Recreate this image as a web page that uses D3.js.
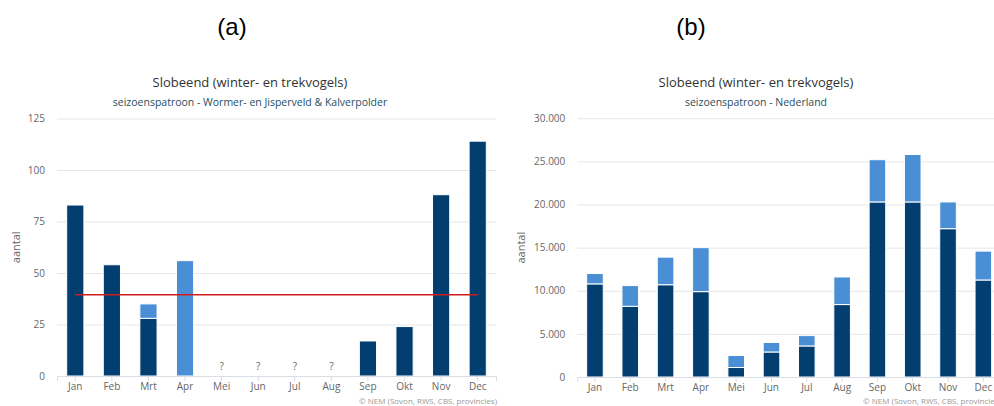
<!DOCTYPE html>
<html>
<head>
<meta charset="utf-8">
<script src="https://cdn.jsdelivr.net/npm/d3@7"></script>
<style>
  html, body { margin: 0; padding: 0; background: #fff; }
  svg { display: block; }
  text { font-family: "Open Sans", "DejaVu Sans", sans-serif; }
</style>
</head>
<body>
<svg id="chart" width="994" height="406"></svg>
<script>
// Months shown on both x axes
const months = ["Jan", "Feb", "Mrt", "Apr", "Mei", "Jun", "Jul", "Aug", "Sep", "Okt", "Nov", "Dec"];

// (a) Wormer- en Jisperveld & Kalverpolder: two stacked parts per month (null = no count)
const localLower = [83, 54, 28, 0, null, null, null, null, 17, 24, 88, 114];
const localUpper = [0, 0, 7, 56, null, null, null, null, 0, 0, 0, 0];
const localReference = 39.5;
const localTicks = [0, 25, 50, 75, 100, 125];

// (b) Nederland: two stacked parts per month
const nlLower = [10800, 8200, 10700, 9900, 1100, 2900, 3600, 8400, 20300, 20300, 17200, 11250];
const nlUpper = [1200, 2400, 3200, 5100, 1400, 1100, 1200, 3200, 4900, 5500, 3100, 3350];
const nlTicks = [0, 5000, 10000, 15000, 20000, 25000, 30000];

const chartTitle = "Slobeend (winter- en trekvogels)";
const subtitleA = "seizoenspatroon - Wormer- en Jisperveld & Kalverpolder";
const subtitleB = "seizoenspatroon - Nederland";
const credits = "© NEM (Sovon, RWS, CBS, provincies)";
const yTitle = "aantal";

const DARK = "#033e70";
const LIGHT = "#4a8fd5";
const RED = "#d01c1c";

const svg = d3.select("#chart");
const nlFormat = v => d3.format(",")(v).replace(/,/g, ".");

function panel(opts) {
  const g = svg.append("g");
  const x = d3.scaleBand().domain(months)
    .range([opts.left, opts.right]).paddingInner(0.53).paddingOuter(0.265);
  const y = d3.scaleLinear().domain([0, opts.max]).range([opts.bottom, opts.top]);

  // panel letter
  g.append("text").attr("x", opts.letterX).attr("y", 35)
    .attr("text-anchor", "middle")
    .style("font-family", "'Liberation Sans', Arial, sans-serif")
    .style("font-size", "24px").attr("fill", "#000").text(opts.letter);

  // titles
  g.append("text").attr("x", opts.titleX).attr("y", 87)
    .attr("text-anchor", "middle").style("font-size", "13px")
    .attr("fill", "#333").text(chartTitle);
  g.append("text").attr("x", opts.titleX).attr("y", 106)
    .attr("text-anchor", "middle").style("font-size", "10.5px")
    .attr("fill", "#1f4f5f").text(opts.subtitle);

  // gridlines and y labels
  const yAxis = d3.axisLeft(y).tickValues(opts.ticks).tickFormat(opts.format)
    .tickSize(-(opts.right - opts.left)).tickPadding(12);
  const ya = g.append("g").attr("transform", `translate(${opts.left},0)`).call(yAxis);
  ya.select(".domain").remove();
  ya.selectAll(".tick line").attr("stroke", "#e6e6e6");
  ya.selectAll(".tick text").attr("fill", "#666").style("font-size", "10px")
    .style("font-family", "'Open Sans', sans-serif");
  ya.selectAll(".tick").filter(d => d === 0).select("line").remove();

  g.append("text")
    .attr("transform", `translate(${opts.yTitleX},${(opts.top + opts.bottom) / 2}) rotate(-90)`)
    .attr("text-anchor", "middle").style("font-size", "11px").attr("fill", "#666").text(yTitle);

  // stacked bars
  const rows = months.map((m, i) => ({ m, lo: opts.lower[i], up: opts.upper[i] }));
  const bars = g.append("g");
  rows.forEach(r => {
    if (r.lo === null) return;
    if (r.lo > 0) {
      bars.append("rect").attr("x", x(r.m)).attr("width", x.bandwidth())
        .attr("y", y(r.lo)).attr("height", y(0) - y(r.lo))
        .attr("fill", DARK).attr("stroke", "#fff").attr("stroke-width", 1);
    }
    if (r.up > 0) {
      bars.append("rect").attr("x", x(r.m)).attr("width", x.bandwidth())
        .attr("y", y(r.lo + r.up)).attr("height", y(r.lo) - y(r.lo + r.up))
        .attr("fill", LIGHT).attr("stroke", "#fff").attr("stroke-width", 1);
    }
  });

  // missing counts
  rows.filter(r => r.lo === null).forEach(r => {
    g.append("text").attr("x", x(r.m) + x.bandwidth() / 2).attr("y", opts.bottom - 6)
      .attr("text-anchor", "middle").style("font-size", "10px").attr("fill", "#666").text("?");
  });

  // x axis
  const xAxis = d3.axisBottom(x).tickSize(5).tickPadding(2);
  const xa = g.append("g").attr("transform", `translate(0,${opts.bottom})`).call(xAxis);
  xa.select(".domain").attr("stroke", "#d8dde6");
  xa.selectAll(".tick line").attr("stroke", "#d8dde6");
  xa.selectAll(".tick text").attr("fill", "#666").style("font-size", "10px")
    .style("font-family", "'Open Sans', sans-serif");

  // reference line
  if (opts.reference !== undefined) {
    const c0 = x(months[0]) + x.bandwidth() / 2;
    const c1 = x(months[months.length - 1]) + x.bandwidth() / 2;
    g.append("line").attr("x1", c0).attr("x2", c1)
      .attr("y1", y(opts.reference)).attr("y2", y(opts.reference))
      .attr("stroke", RED).attr("stroke-width", 1.5);
  }

  // credits
  g.append("text").attr("x", opts.creditX).attr("y", 403.5)
    .attr("text-anchor", "end").style("font-size", "8px").attr("fill", "#999").text(credits);
}

panel({
  letter: "(a)", letterX: 232, titleX: 250, subtitle: subtitleA,
  left: 57, right: 496, top: 118.5, bottom: 376, max: 125,
  ticks: localTicks, format: d3.format("d"), yTitleX: 20,
  lower: localLower, upper: localUpper, reference: localReference, creditX: 497
});

panel({
  letter: "(b)", letterX: 691, titleX: 756, subtitle: subtitleB,
  left: 577.3, right: 1001, top: 118.3, bottom: 377, max: 30000,
  ticks: nlTicks, format: nlFormat, yTitleX: 524.5,
  lower: nlLower, upper: nlUpper, creditX: 1001
});
</script>
</body>
</html>
